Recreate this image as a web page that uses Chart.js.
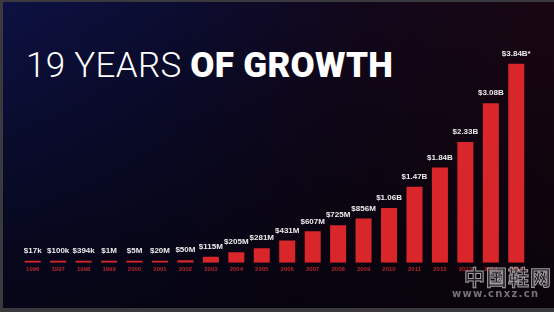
<!DOCTYPE html>
<html>
<head>
<meta charset="utf-8">
<script src="https://cdn.jsdelivr.net/npm/chart.js@4"></script>
<style>
  html, body { margin: 0; padding: 0; }
  body { width: 554px; height: 312px; overflow: hidden; background: #3a3a3e; }
  #wrap {
    position: absolute; left: 3px; top: 2px; width: 551px; height: 306px;
    background: linear-gradient(100deg, #0d1142 0%, #0b0c30 30%, #12071a 60%, #1a0610 100%);
    overflow: hidden;
  }
  #shade {
    position: absolute; left: 0; top: 0; width: 100%; height: 100%;
    background: linear-gradient(180deg, rgba(0,0,0,0) 0%, rgba(3,2,8,0.55) 75%, rgba(3,2,8,0.7) 100%);
  }
  #title {
    position: absolute; left: 23px; top: 43px; color: #fff;
    font-family: Roboto, sans-serif; font-size: 35px; white-space: nowrap; letter-spacing: 0.3px;
  }
  #title .thin { font-weight: 300; }
  #title .bold { font-weight: 900; }
  canvas { position: absolute; left: -3px; top: -2px; }
  #wm { position: absolute; left: 443px; top: 262px; color: rgba(215,215,215,0.55); font-family: "Noto Sans CJK SC", sans-serif; }
  #wm .cn { font-size: 21px; font-weight: 700; letter-spacing: 1px; line-height: 24px; padding-left: 18px;
    color: rgba(60,60,60,0.5); -webkit-text-stroke: 1px rgba(220,220,220,0.7); }
  #wm .url { font-family: "DejaVu Sans", sans-serif; font-size: 10px; font-weight: 700; letter-spacing: 1.3px; padding-left: 6px; color: rgba(190,190,190,0.6); }
</style>
</head>
<body>
<div id="wrap">
  <div id="shade"></div>
  <div id="title"><span class="thin">19 YEARS </span><span class="bold">OF GROWTH</span></div>
  <canvas id="c" width="554" height="312"></canvas>
  <div id="wm"><div class="cn">中国鞋网</div><div class="url">www.cnxz.cn</div></div>
</div>
<script>
const years = ['1996','1997','1998','1999','2000','2001','2002','2003','2004','2005',
  '2006','2007','2008','2009','2010','2011','2012','2013','2014','2015'];
// revenue in millions of dollars
const revenue = [0.017, 0.1, 0.394, 1, 5, 20, 50, 115, 205, 281,
  431, 607, 725, 856, 1060, 1470, 1840, 2330, 3080, 3840];
const valueLabels = ['$17k','$100k','$394k','$1M','$5M','$20M','$50M','$115M','$205M','$281M',
  '$431M','$607M','$725M','$856M','$1.06B','$1.47B','$1.84B','$2.33B','$3.08B','$3.84B*'];

const barLabels = {
  id: 'barLabels',
  afterDatasetsDraw(chart) {
    const ctx = chart.ctx;
    const meta = chart.getDatasetMeta(0);
    ctx.save();
    ctx.fillStyle = '#ececec';
    ctx.font = 'bold 8px "Liberation Sans Narrow", "Arial Narrow", sans-serif';
    ctx.textAlign = 'center';
    ctx.textBaseline = 'middle';
    meta.data.forEach((bar, i) => {
      ctx.fillText(valueLabels[i], bar.x, bar.y - 10);
    });
    ctx.restore();
  }
};

new Chart(document.getElementById('c'), {
  type: 'bar',
  data: {
    labels: years,
    datasets: [{
      data: revenue,
      backgroundColor: '#d9262b',
      borderWidth: 0,
      minBarLength: 2,
      barPercentage: 0.63,
      categoryPercentage: 1
    }]
  },
  options: {
    responsive: false,
    animation: false,
    layout: { padding: { left: 20, right: 25, top: 40, bottom: 36 } },
    plugins: { legend: { display: false }, tooltip: { enabled: false } },
    scales: {
      y: { display: false, min: 0, max: 4300 },
      x: {
        grid: { display: false, drawTicks: false },
        border: { display: false },
        ticks: {
          color: '#b8262d',
          padding: 3,
          font: { family: '"Liberation Sans Narrow", sans-serif', size: 6, weight: 'bold' }
        }
      }
    }
  },
  plugins: [barLabels]
});
</script>
</body>
</html>
